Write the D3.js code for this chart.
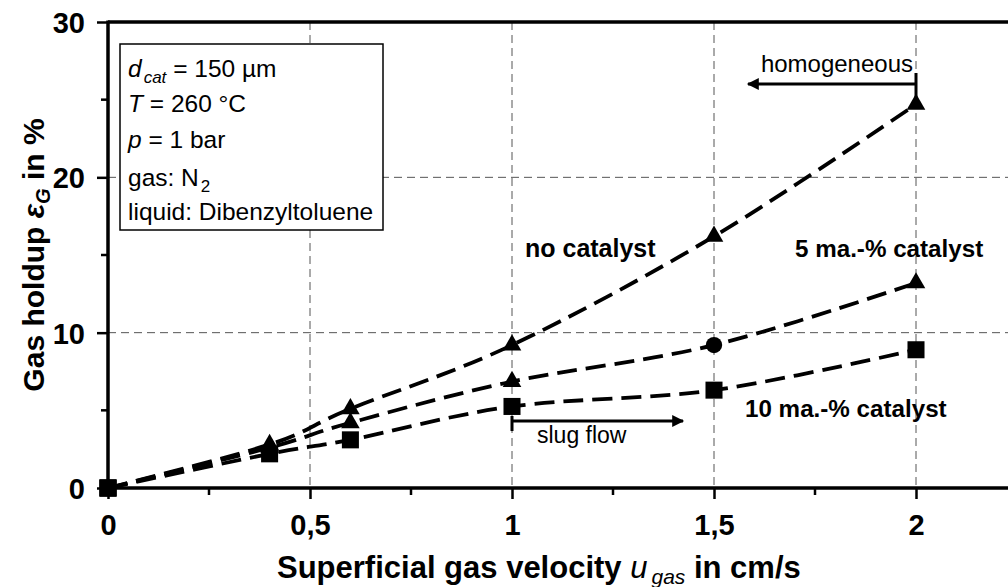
<!DOCTYPE html>
<html>
<head>
<meta charset="utf-8">
<script src="https://cdn.jsdelivr.net/npm/d3@7"></script>
<style>
  body { margin: 0; background: #fff; }
  svg { font-family: "Liberation Sans", Arial, sans-serif; display: block; }
</style>
</head>
<body>
<svg id="chart"></svg>
<script>
// data
var velocity = [0, 0.4, 0.6, 1, 1.5, 2];
var noCatalyst = [0, 2.8, 5.1, 9.2, 16.2, 24.7];
var catalyst5 = [0, 2.6, 4.2, 6.85, 9.2, 13.2];
var catalyst10 = [0, 2.2, 3.1, 5.25, 6.3, 8.9];
var markers5 = ["square", "triangle", "triangle", "triangle", "circle", "triangle"];
var xTicks = [0, 0.5, 1, 1.5, 2];
var xMinor = [0.25, 0.75, 1.25, 1.75, 2.25];
var yTicks = [0, 10, 20, 30];
var yMinor = [5, 15, 25];

width = 1008;
height = 587;
margin = {left: 108, top: 22, bottom: 99};

svg = d3.select("#chart")
    .attr("width", width)
    .attr("height", height);

x = d3.scaleLinear().domain([0, 2.25]).range([margin.left, margin.left + 2.25 * 404]);
y = d3.scaleLinear().domain([0, 30]).range([height - margin.bottom, margin.top]);

// grid
grid = svg.append("g").attr("style", "stroke:#555; stroke-width:1; stroke-dasharray:8,5;");
grid.selectAll("line.v").data(xTicks.slice(1)).enter().append("line")
    .attr("x1", d => x(d)).attr("x2", d => x(d))
    .attr("y1", y(30)).attr("y2", y(0));
grid.selectAll("line.h").data([10, 20]).enter().append("line")
    .attr("x1", x(0)).attr("x2", x(2.25))
    .attr("y1", d => y(d)).attr("y2", d => y(d));

// axes
xAxis = d3.axisBottom(x).tickValues(xTicks).tickSize(11).tickFormat(d => String(d).replace(".", ","));
yAxis = d3.axisLeft(y).tickValues(yTicks).tickSize(11);
gx = svg.append("g").attr("transform", "translate(0," + y(0) + ")").call(xAxis);
gx.selectAll("text").attr("y", 47).attr("dy", 0);
gy = svg.append("g").attr("transform", "translate(" + x(0) + ",0)").call(yAxis);
gy.selectAll("text").attr("x", -23).attr("dy", "0.36em");
[gx, gy].forEach(function(g) {
    g.select(".domain").remove();
    g.selectAll("line").attr("stroke", "#000").attr("stroke-width", 2.5);
    g.selectAll("text").attr("fill", "#000").attr("font-size", 29).attr("font-weight", "bold")
        .attr("font-family", "'Liberation Sans', Arial, sans-serif");
});
svg.append("g").selectAll("line").data(xMinor).enter().append("line")
    .attr("x1", d => x(d)).attr("x2", d => x(d))
    .attr("y1", y(0)).attr("y2", y(0) + 7)
    .attr("style", "stroke:#000; stroke-width:2.5");
svg.append("g").selectAll("line").data(yMinor).enter().append("line")
    .attr("x1", x(0) - 7).attr("x2", x(0))
    .attr("y1", d => y(d)).attr("y2", d => y(d))
    .attr("style", "stroke:#000; stroke-width:2.5");

// frame lines
svg.append("line").attr("x1", x(0)).attr("x2", x(2.25)).attr("y1", y(0)).attr("y2", y(0))
    .attr("style", "stroke:#000; stroke-width:3.5");
svg.append("line").attr("x1", x(0)).attr("x2", x(2.25)).attr("y1", y(30)).attr("y2", y(30))
    .attr("style", "stroke:#000; stroke-width:3.5");
svg.append("line").attr("x1", x(0)).attr("x2", x(0)).attr("y1", y(30) - 1.5).attr("y2", y(0) + 4)
    .attr("style", "stroke:#000; stroke-width:3.5");

// series lines
line = d3.line()
    .x((d, i) => x(velocity[i]))
    .y(d => y(d))
    .curve(d3.curveCardinal.tension(0));
[catalyst10, catalyst5, noCatalyst].forEach(function(s) {
    svg.append("path").datum(s)
        .attr("d", line)
        .attr("style", "fill:none; stroke:#000; stroke-width:3.8; stroke-dasharray:20,9;");
});

// markers
symbols = {
    triangle: d3.symbol().type(d3.symbolTriangle).size(150),
    square: d3.symbol().type(d3.symbolSquare).size(290),
    circle: d3.symbol().type(d3.symbolCircle).size(210)
};
function drawMarkers(values, kinds) {
    svg.append("g").selectAll("path").data(values).enter().append("path")
        .attr("transform", (d, i) => "translate(" + x(velocity[i]) + "," + y(d) + ")")
        .attr("d", (d, i) => symbols[kinds[i]]())
        .attr("fill", "#000");
}
drawMarkers(noCatalyst, velocity.map((v, i) => i == 0 ? "square" : "triangle"));
drawMarkers(catalyst5, markers5);
drawMarkers(catalyst10, velocity.map(() => "square"));

// series labels
function label(txt, lx, ly, size) {
    svg.append("text").attr("x", lx).attr("y", ly)
        .attr("font-size", size).attr("font-weight", "bold").text(txt);
}
label("no catalyst", 525, 257, 25);
label("5 ma.-% catalyst", 795, 257, 24.2);
label("10 ma.-% catalyst", 745, 417, 24.2);

// regime arrows
defs = svg.append("defs");
defs.append("marker").attr("id", "head")
    .attr("viewBox", "0 0 10 10").attr("refX", 9).attr("refY", 5)
    .attr("markerWidth", 5).attr("markerHeight", 4).attr("orient", "auto-start-reverse")
    .attr("markerUnits", "strokeWidth")
    .append("path").attr("d", "M0,0L10,5L0,10Z").attr("fill", "#000");

svg.append("line").attr("x1", x(2)).attr("x2", 748).attr("y1", 84).attr("y2", 84)
    .attr("stroke", "#000").attr("stroke-width", 3).attr("marker-end", "url(#head)");
svg.append("line").attr("x1", x(2)).attr("x2", x(2)).attr("y1", 73).attr("y2", 97)
    .attr("stroke", "#000").attr("stroke-width", 3);
svg.append("text").attr("x", 913).attr("y", 72).attr("text-anchor", "end")
    .attr("font-size", 24).text("homogeneous");

svg.append("line").attr("x1", x(1)).attr("x2", 683).attr("y1", 421).attr("y2", 421)
    .attr("stroke", "#000").attr("stroke-width", 3).attr("marker-end", "url(#head)");
svg.append("line").attr("x1", x(1)).attr("x2", x(1)).attr("y1", 416).attr("y2", 431)
    .attr("stroke", "#000").attr("stroke-width", 3);
svg.append("text").attr("x", 537).attr("y", 443)
    .attr("font-size", 23).text("slug flow");

// info box
box = svg.append("g");
box.append("rect").attr("x", 120).attr("y", 44).attr("width", 263).attr("height", 186)
    .attr("style", "fill:#fff; stroke:#000; stroke-width:1.5");
boxLines = [
    [["d", "i"], ["cat", "is"], [" = 150 µm", ""]],
    [["T", "i"], [" = 260 °C", ""]],
    [["p", "i"], [" = 1 bar", ""]],
    [["gas: N", ""], ["2", "s"]],
    [["liquid: Dibenzyltoluene", ""]]
];
boxBase = [77, 112, 148, 186, 220];
boxLines.forEach(function(parts, li) {
    t = box.append("text").attr("x", 128).attr("y", boxBase[li]).attr("font-size", 24.5);
    parts.forEach(function(p) {
        sp = t.append("tspan").text(p[0]);
        if (p[1].indexOf("i") >= 0) sp.attr("font-style", "italic");
        if (p[1].indexOf("s") >= 0) sp.attr("font-size", 17).attr("dy", 6).attr("dx", 2);
        else if (sp.node().previousSibling && p[1] == "") {
            prev = d3.select(sp.node().previousSibling);
            if (prev.attr("dy")) sp.attr("dy", -6);
        }
    });
});

// axis titles
xt = svg.append("text").attr("x", 277).attr("y", 578).attr("font-size", 31).attr("font-weight", "bold");
xt.append("tspan").text("Superficial gas velocity ");
xt.append("tspan").attr("font-style", "italic").attr("font-weight", "normal").text("u");
xt.append("tspan").attr("font-style", "italic").attr("font-weight", "normal").attr("font-size", 21)
    .attr("dy", 6).attr("dx", 4).text("gas");
xt.append("tspan").attr("dy", -6).text(" in cm/s");

yt = svg.append("text").attr("transform", "translate(44," + y(15) + ") rotate(-90)")
    .attr("text-anchor", "middle").attr("font-size", 30).attr("font-weight", "bold");
yt.append("tspan").text("Gas holdup ");
yt.append("tspan").attr("font-style", "italic").text("ε");
yt.append("tspan").attr("font-style", "italic").attr("font-size", 20).attr("dy", 6).text("G");
yt.append("tspan").attr("dy", -6).text(" in %");
</script>
</body>
</html>
